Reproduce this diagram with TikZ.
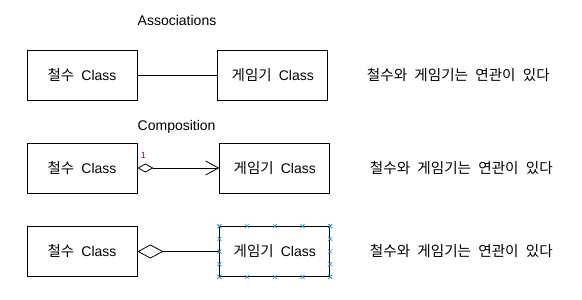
\documentclass[tikz,border=0pt]{standalone}
\usepackage{fontspec}
\setmainfont{Liberation Sans}
\newfontfamily\kr[WordSpace=2.2]{Noto Sans CJK KR}
\usepackage{tikz}
\usetikzlibrary{positioning, arrows.meta, calc, shapes.misc}
\definecolor{mult}{RGB}{128,0,128}
\definecolor{handle}{RGB}{40,150,220}
\tikzset{
  classbox/.style={
    rectangle, draw, line width=0.8pt, minimum width=110pt,
    minimum height=50pt, inner sep=0pt, font=\fontsize{14}{16}\selectfont
  },
  title/.style={anchor=west, font=\fontsize{14}{16}\selectfont},
  remark/.style={font=\fontsize{14.6}{16}\selectfont\kr},
  multlabel/.style={font=\fontsize{9}{10}\selectfont, text=mult, inner sep=0pt},
  selhandle/.style={cross out, draw=handle, line width=0.6pt,
    minimum size=3.5pt, inner sep=0pt},
  every path/.style={line width=0.8pt},
}

\begin{document}
\begin{tikzpicture}[x=1pt, y=-1pt, node distance=82pt]
  \useasboundingbox (0,0) rectangle (582,300);

  % associations
  \node[title] (assoc) at (134,20) {Associations};
  \node[classbox] (chulsuA) at (82,75) {{\kr\fontsize{14.5}{16}\selectfont 철수 }Class};
  \node[classbox, right=80pt of chulsuA] (gameA) {{\kr\fontsize{14.5}{16}\selectfont 게임기 }Class};
  \node[remark, right=35pt of gameA] (noteA) {철수와 게임기는 연관이 있다};
  \draw (chulsuA) -- (gameA);

  % composition
  \node[title] (comp) at (134,127) {Composition};
  \node[classbox] (chulsuB) at (82,168) {{\kr\fontsize{14.5}{16}\selectfont 철수 }Class};
  \node[classbox, right=of chulsuB] (gameB) {{\kr\fontsize{14.5}{16}\selectfont 게임기 }Class};
  \node[remark, right=36pt of gameB] (noteB) {철수와 게임기는 연관이 있다};
  \draw[{Diamond[open, length=16pt, width=9pt]}-{Straight Barb[length=13pt, width=14pt]}]
    (chulsuB) -- (gameB);
  \node[multlabel] (multB) at ($(chulsuB.east)+(6,-13)$) {1};

  \node[classbox] (chulsuC) at (82,251.5) {{\kr\fontsize{14.5}{16}\selectfont 철수 }Class};
  \node[classbox, right=of chulsuC] (gameC) {{\kr\fontsize{14.5}{16}\selectfont 게임기 }Class};
  \node[remark, right=36pt of gameC] (noteC) {철수와 게임기는 연관이 있다};
  \draw[{Diamond[open, length=26pt, width=14pt]}-] (chulsuC) -- (gameC);

  % selection handles
  \foreach \t in {0,0.25,0.5,0.75,1} {
    \node[selhandle] at ($(gameC.north west)!\t!(gameC.north east)$) {};
    \node[selhandle] at ($(gameC.south west)!\t!(gameC.south east)$) {};
    \node[selhandle] at ($(gameC.north west)!\t!(gameC.south west)$) {};
    \node[selhandle] at ($(gameC.north east)!\t!(gameC.south east)$) {};
  }
\end{tikzpicture}
\end{document}
